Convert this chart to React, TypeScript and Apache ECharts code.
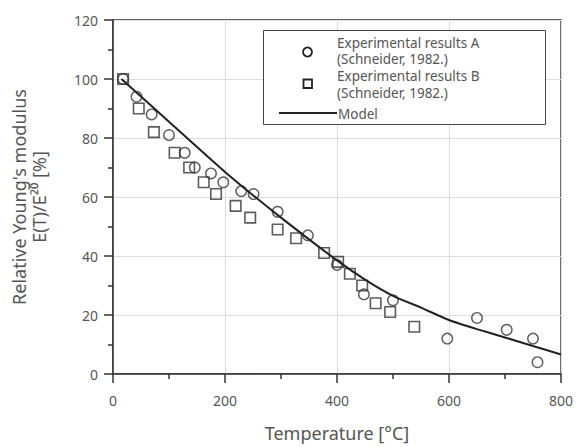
import React, { useEffect, useRef } from "react";
import * as echarts from "echarts";

const seriesAName = "Experimental results A";
const seriesBName = "Experimental results B";
const sourceNote = "(Schneider, 1982.)";
const modelName = "Model";

const resultsA: [number, number][] = [
  [18, 100], [42, 94], [69, 88], [100, 81], [128, 75], [146, 70], [175, 68],
  [197, 65], [229, 62], [251, 61], [294, 55], [348, 47], [400, 37], [448, 27],
  [500, 25], [597, 12], [650, 19], [703, 15], [750, 12], [758, 4],
];

const resultsB: [number, number][] = [
  [18, 100], [46, 90], [73, 82], [110, 75], [136, 70], [162, 65], [184, 61],
  [219, 57], [245, 53], [294, 49], [327, 46], [377, 41], [402, 38], [423, 34],
  [445, 30], [469, 24], [495, 21], [538, 16],
];

const model: [number, number][] = [
  [15, 100], [100, 85.5], [200, 68.5], [300, 53], [400, 38.5], [450, 32],
  [500, 26.5], [550, 22.5], [600, 18.3], [650, 15.2], [700, 12.4], [750, 9.5],
  [800, 6.6],
];

const xTicks = { min: 0, max: 800, interval: 200 };
const yTicks = { min: 0, max: 120, interval: 20 };

const FONT = "Noto Sans";
const TEXT = "#555";
const AXIS = "#333";

export default function App() {
  const ref = useRef<HTMLDivElement>(null);
  useEffect(() => {
    if (!ref.current) return;
    const chart = echarts.init(ref.current, undefined, { renderer: "svg" });
    const legendText = (x: number, y: number, t: string) => ({
      type: "text",
      x,
      y,
      z: 101,
      style: {
        text: t,
        fontFamily: FONT,
        fontSize: 13.5,
        lineHeight: 16.5,
        fill: TEXT,
        verticalAlign: "middle",
        align: "left",
      },
    });
    chart.setOption({
      animation: false,
      backgroundColor: "#fff",
      textStyle: { fontFamily: FONT, color: TEXT },
      grid: {
        left: 113,
        right: 12,
        top: 20,
        bottom: 68,
        show: true,
        borderColor: AXIS,
        borderWidth: 1.5,
      },
      graphic: [
        {
          type: "rect",
          z: 100,
          shape: { x: 263.5, y: 30.5, width: 282, height: 94 },
          style: { fill: "#fff", stroke: "#444", lineWidth: 1 },
        },
        {
          type: "circle",
          z: 101,
          shape: { cx: 307.5, cy: 52, r: 4.5 },
          style: { fill: "none", stroke: "#222", lineWidth: 1.8 },
        },
        {
          type: "rect",
          z: 101,
          shape: { x: 303.5, y: 79.5, width: 8.5, height: 8.5 },
          style: { fill: "none", stroke: "#222", lineWidth: 1.8 },
        },
        {
          type: "line",
          z: 101,
          shape: { x1: 279, y1: 113, x2: 337, y2: 113 },
          style: { stroke: "#222", lineWidth: 2 },
        },
        legendText(337, 51, seriesAName + "\n" + sourceNote),
        legendText(337, 84.5, seriesBName + "\n" + sourceNote),
        legendText(338, 113.5, modelName),
      ],
      xAxis: {
        type: "value",
        min: xTicks.min,
        max: xTicks.max,
        interval: xTicks.interval,
        name: "Temperature [°C]",
        nameLocation: "middle",
        nameGap: 50,
        nameTextStyle: { fontFamily: FONT, fontSize: 18, color: TEXT },
        axisLine: { lineStyle: { color: AXIS, width: 1.5 } },
        axisTick: { length: 9, lineStyle: { color: AXIS, width: 1.5 } },
        minorTick: { show: true, splitNumber: 2, length: 5, lineStyle: { color: AXIS, width: 1.5 } },
        axisLabel: { fontFamily: FONT, fontSize: 14, color: TEXT, margin: 19 },
        splitLine: { show: true, lineStyle: { color: "#ddd", width: 1.2 } },
      },
      yAxis: {
        type: "value",
        min: yTicks.min,
        max: yTicks.max,
        interval: yTicks.interval,
        name: "Relative Young's modulus\nE(T)/E²⁰ [%]",
        nameLocation: "middle",
        nameRotate: 90,
        nameGap: 64,
        nameTextStyle: { fontFamily: FONT, fontSize: 18, color: TEXT, lineHeight: 20 },
        axisLine: { lineStyle: { color: AXIS, width: 1.5 } },
        axisTick: { length: 9, lineStyle: { color: AXIS, width: 1.5 } },
        minorTick: { show: true, splitNumber: 2, length: 5, lineStyle: { color: AXIS, width: 1.5 } },
        axisLabel: { fontFamily: FONT, fontSize: 14, color: TEXT, margin: 15 },
        splitLine: { show: true, lineStyle: { color: "#ddd", width: 1.2 } },
      },
      series: [
        {
          name: seriesAName,
          type: "scatter",
          data: resultsA,
          symbol: "circle",
          symbolSize: 10.5,
          itemStyle: { color: "rgba(255,255,255,0)", borderColor: "#333", borderWidth: 1.4 },
          z: 3,
        },
        {
          name: seriesBName,
          type: "scatter",
          data: resultsB,
          symbol: "rect",
          symbolSize: 10.5,
          itemStyle: { color: "rgba(255,255,255,0)", borderColor: "#333", borderWidth: 1.6 },
          z: 3,
        },
        {
          name: modelName,
          type: "line",
          data: model,
          symbol: "none",
          smooth: 0.2,
          lineStyle: { color: "#222", width: 2 },
          z: 4,
        },
      ],
    });
    return () => chart.dispose();
  }, []);
  return (
    <div
      ref={ref}
      style={{ position: "absolute", left: 0, top: 0, width: 576, height: 447 }}
    />
  );
}
